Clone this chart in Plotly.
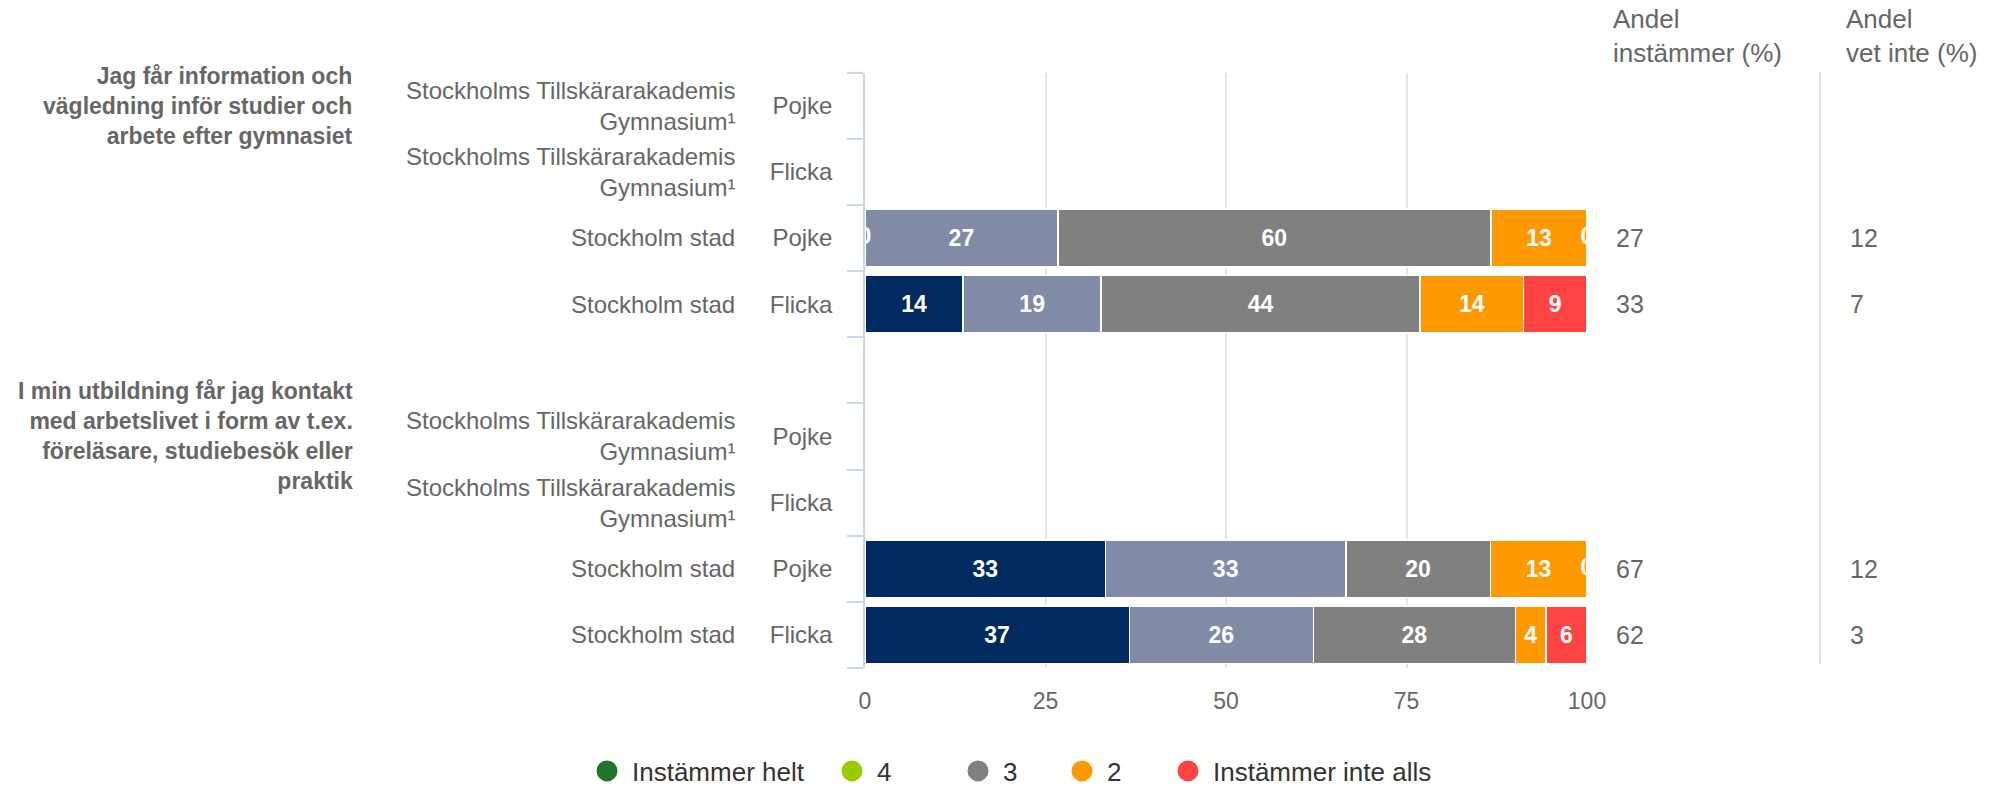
import plotly.graph_objects as go

# ---------------- data ----------------
questions = [
    "Jag får information och<br>vägledning inför studier och<br>arbete efter gymnasiet",
    "I min utbildning får jag kontakt<br>med arbetslivet i form av t.ex.<br>föreläsare, studiebesök eller<br>praktik",
]
units = ["Stockholms Tillskärarakademis<br>Gymnasium¹", "Stockholms Tillskärarakademis<br>Gymnasium¹",
         "Stockholm stad", "Stockholm stad"]
genders = ["Pojke", "Flicka", "Pojke", "Flicka"]

series_names = ["Instämmer helt", "4", "3", "2", "Instämmer inte alls"]
bar_colors = ["#012a61", "#828ba6", "#808080", "#fe9900", "#fe4343"]
legend_colors = ["#23732e", "#99cc00", "#808080", "#fe9900", "#fe4343"]

# rows: question 1 (4 rows), question 2 (4 rows); None = no data
helt = [None, None, 0, 13.6, None, None, 33.3, 36.6]
fyra = [None, None, 26.7, 19.1, None, None, 33.3, 25.5]
tre = [None, None, 60.0, 44.2, None, None, 20.0, 28.0]
tva = [None, None, 13.3, 14.3, None, None, 13.4, 4.2]
inte = [None, None, 0, 8.8, None, None, 0, 5.7]
series_values = [helt, fyra, tre, tva, inte]

andel_instammer = [None, None, 27, 33, None, None, 67, 62]
andel_vet_inte = [None, None, 12, 7, None, None, 12, 3]

x_ticks = [0, 25, 50, 75, 100]

# ---------------- categories ----------------
row_ids, row_labels = [], []
for qi in range(len(questions)):
    for ri in range(len(genders)):
        row_ids.append(f"q{qi}_r{ri}")
        row_labels.append(genders[ri])
# y-axis order with a blank slot between the question groups
cat_order = row_ids[:4] + ["gap"] + row_ids[4:]
tick_text = row_labels[:4] + [""] + row_labels[4:]

FONT = "Liberation Sans, Arial, Helvetica, sans-serif"
GREY = "#666666"

# the page body has an 8px margin: the figure sits at (8, 8) in the 1996x789 window
OFF = 8
W, H = 1996 - 2 * OFF, 789 - OFF


def px(x):
    return (x - OFF) / W


def py(y):
    return 1 - (y - OFF) / H


fig = go.Figure()

for name, vals, col in zip(series_names, series_values, bar_colors):
    fig.add_trace(go.Bar(
        y=row_ids, x=vals, orientation="h", name=name,
        marker=dict(color=col, line=dict(color="#ffffff", width=1.5)),
        width=0.87,
        text=[(f"{round(v)}" if v else "") for v in vals],
        textposition="inside", insidetextanchor="middle", textangle=0,
        constraintext="none",
        textfont=dict(family=FONT, size=23, color="#ffffff", weight="bold"),
        showlegend=False, hoverinfo="skip",
    ))

# zero-valued segments: label "0" at the segment position (partly hidden, as in the original)
zx, zy = [], []
for ri, rid in enumerate(row_ids):
    cum = 0
    for vals in series_values:
        v = vals[ri]
        if v is None:
            break
        if v == 0:
            zx.append(cum)
            zy.append(rid)
        cum += v
fig.add_trace(go.Scatter(
    x=zx, y=zy, mode="text", text=["0"] * len(zx),
    textfont=dict(family=FONT, size=23, color="#ffffff", weight="bold"),
    showlegend=False, hoverinfo="skip", cliponaxis=True,
))

# legend entries (circles), each in its own legend box for placement
legend_centers_px = [607, 852, 978, 1082, 1188]
legend_layouts = {}
for i, (name, col) in enumerate(zip(series_names, legend_colors)):
    lid = "legend" if i == 0 else f"legend{i + 1}"
    fig.add_trace(go.Scatter(
        x=[None], y=[None], mode="markers", name=name, legend=lid,
        marker=dict(symbol="circle", size=16, color=col, line=dict(color=col, width=5)),
        showlegend=True,
    ))
    legend_layouts[lid] = dict(
        orientation="h", x=px(legend_centers_px[i] - 25), xanchor="left",
        y=py(771), yanchor="middle", itemwidth=40,
        font=dict(family=FONT, size=26, color="#333333"),
        bgcolor="rgba(0,0,0,0)", borderwidth=0,
        itemclick=False, itemdoubleclick=False,
    )

annotations = []
# unit labels
for ri, rid in enumerate(row_ids):
    annotations.append(dict(
        x=px(737), xref="paper", y=rid, yref="y", xanchor="right", yanchor="middle",
        text=units[ri % 4], align="right", showarrow=False,
        font=dict(family=FONT, size=24, color=GREY),
    ))
# question labels
for qi, q in enumerate(questions):
    annotations.append(dict(
        x=px(355), xref="paper", y=row_ids[qi * 4], yref="y", xanchor="right", yanchor="middle",
        text=q, align="right", showarrow=False,
        font=dict(family=FONT, size=23, color=GREY, weight="bold"),
    ))
# right-hand columns
for hx, htxt in [(1611, "Andel<br>instämmer (%)"), (1844, "Andel<br>vet inte (%)")]:
    annotations.append(dict(
        x=px(hx), xref="paper", y=py(36), yref="paper", xanchor="left", yanchor="middle",
        text=htxt, align="left", showarrow=False,
        font=dict(family=FONT, size=26, color=GREY),
    ))
for col_x, vals in [(1614, andel_instammer), (1848, andel_vet_inte)]:
    for rid, v in zip(row_ids, vals):
        if v is None:
            continue
        annotations.append(dict(
            x=px(col_x), xref="paper", y=rid, yref="y", xanchor="left", yanchor="middle",
            text=str(v), showarrow=False,
            font=dict(family=FONT, size=25, color=GREY),
        ))

fig.update_layout(
    width=W, height=H,
    margin=dict(l=0, r=0, t=0, b=0, autoexpand=False),
    paper_bgcolor="#ffffff", plot_bgcolor="#ffffff",
    barmode="stack",
    font=dict(family=FONT, size=23, color=GREY),
    xaxis=dict(
        domain=[px(865), px(1587)], range=[0, 100], automargin=False,
        tickvals=x_ticks, ticktext=[str(t) for t in x_ticks],
        showgrid=True, gridcolor="#e6e6e6", gridwidth=1.5, zeroline=False,
        showline=False, ticks="", ticklabelstandoff=17,
        tickfont=dict(family=FONT, size=23, color=GREY),
    ),
    yaxis=dict(
        domain=[py(668), py(72.6)], automargin=False,
        type="category", categoryorder="array", categoryarray=cat_order,
        range=[len(cat_order) - 0.5, -0.5],
        tickvals=cat_order, ticktext=tick_text,
        tickson="boundaries", ticks="outside", ticklen=16, tickcolor="#ccd6eb", tickwidth=1.5,
        showline=True, linecolor="#ccd6eb", linewidth=1.5,
        showgrid=False, ticklabelstandoff=26,
        tickfont=dict(family=FONT, size=24, color=GREY),
    ),
    annotations=annotations,
    shapes=[dict(type="line", xref="paper", yref="paper",
                 x0=px(1820), x1=px(1820), y0=py(664), y1=py(72),
                 line=dict(color="#ccd6eb", width=1.5))],
    **legend_layouts,
)

fig.write_html("out.html")
